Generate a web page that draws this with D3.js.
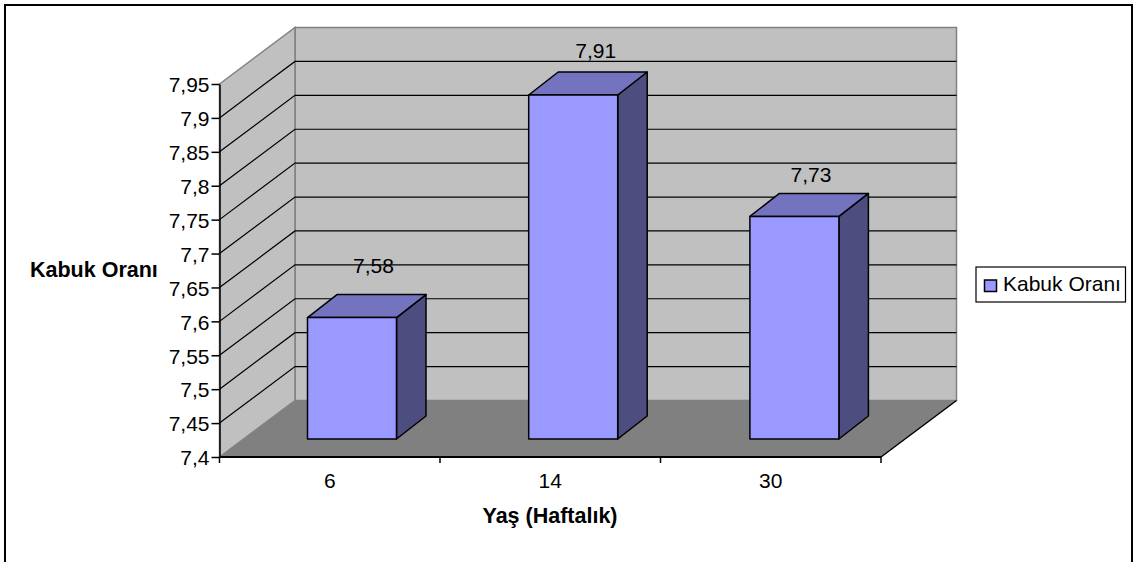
<!DOCTYPE html>
<html>
<head>
<meta charset="utf-8">
<script src="https://cdnjs.cloudflare.com/ajax/libs/d3/7.8.5/d3.min.js"></script>
<style>
html,body{margin:0;padding:0;background:#fff}
svg{display:block}
text{font-family:"Liberation Sans",Arial,sans-serif;fill:#000}
</style>
</head>
<body>
<svg id="chart" width="1133" height="562"></svg>
<script>
// Chart content
const categories = ["6", "14", "30"];
const values = [7.58, 7.91, 7.73];
const valueLabels = ["7,58", "7,91", "7,73"];
const yTicks = [7.4, 7.45, 7.5, 7.55, 7.6, 7.65, 7.7, 7.75, 7.8, 7.85, 7.9, 7.95];
const seriesName = "Kabuk Oranı";
const xTitle = "Yaş (Haftalık)";

// Oblique projection of the 3D box
const frontLeft = 219.5, frontRight = 881, frontBottom = 457, frontTop = 84;
const depthX = 75.5, depthY = -56.5;
const barDepthX = 29.5, barDepthY = -23;

// Type sizes
const tickFont = "21px", titleFont = "21.5px";

// Hand-placed nudges for the value labels, relative to each bar's front top centre
const labelShiftX = [21.5, 22.5, 16.5];
const labelRise = [45, 37, 34];

const svg = d3.select("#chart");
const yFront = d3.scaleLinear().domain([7.4, 7.95]).range([frontBottom, frontTop]);
// Bars stand on a plane inside the floor, so their value scale is slightly shorter
const yBar = d3.scaleLinear().domain([7.4, 7.95]).range([439, 68]);
const x = d3.scaleBand().domain(categories).range([frontLeft, frontRight]);
// The same plane sits further back, which shifts and slightly widens the category slots
const xBar = d3.scaleBand().domain(categories).range([241.4, 905]);
const barW = 89;

const poly = pts => pts.map(p => p.join(",")).join(" ");

// Outer frame
svg.append("rect").attr("x", 5).attr("y", 5).attr("width", 1127).attr("height", 580)
  .attr("fill", "#fff").attr("stroke", "#000").attr("stroke-width", 2);

// Back wall, side wall, floor
const backL = frontLeft + depthX, backR = frontRight + depthX;
const backTop = frontTop + depthY, backBottom = frontBottom + depthY;
svg.append("polygon").attr("points", poly([[backL, backTop], [backR, backTop], [backR, backBottom], [backL, backBottom]]))
  .attr("fill", "#c0c0c0").attr("stroke", "#808080").attr("stroke-width", 1.5);
svg.append("polygon").attr("points", poly([[frontLeft, frontTop], [backL, backTop], [backL, backBottom], [frontLeft, frontBottom]]))
  .attr("fill", "#c0c0c0").attr("stroke", "#808080").attr("stroke-width", 1.5);
svg.append("polygon").attr("points", poly([[frontLeft, frontBottom], [backL, backBottom], [backR, backBottom], [frontRight, frontBottom]]))
  .attr("fill", "#808080");

// Gridlines across both walls
const gridTicks = yTicks.slice(1, -1);
const grid = svg.append("g").attr("fill", "none").attr("stroke", "#000").attr("stroke-width", 1.2);
gridTicks.forEach(t => {
  const yy = yFront(t);
  grid.append("polyline").attr("points", poly([[frontLeft, yy], [backL, yy + depthY], [backR, yy + depthY]]));
});

// Floor front-right edge
svg.append("line").attr("x1", frontRight).attr("y1", frontBottom).attr("x2", backR).attr("y2", backBottom)
  .attr("stroke", "#000").attr("stroke-width", 1.5);

// Axes
const yAxis = d3.axisLeft(yFront).tickValues(yTicks).tickSize(8).tickPadding(2).tickSizeOuter(0)
  .tickFormat(d => String(+d.toFixed(2)).replace(".", ","));
const gy = svg.append("g").attr("transform", `translate(${frontLeft},0)`).call(yAxis);
gy.selectAll("text").style("font-size", tickFont).attr("y", 1);
gy.selectAll("path,line").attr("stroke", "#000").attr("stroke-width", 1.5);

const xAxis = d3.axisBottom(x).tickSize(0).tickPadding(16.5);
const gx = svg.append("g").attr("transform", `translate(0,${frontBottom})`).call(xAxis);
gx.select("path").remove();
gx.selectAll("text").style("font-size", tickFont);
svg.append("line").attr("x1", frontLeft).attr("x2", frontRight).attr("y1", frontBottom).attr("y2", frontBottom)
  .attr("stroke", "#000").attr("stroke-width", 2);
const xEdges = [frontLeft, ...categories.map(c => x(c) + x.bandwidth())];
svg.append("g").selectAll("line").data(xEdges).join("line")
  .attr("x1", d => d).attr("x2", d => d).attr("y1", frontBottom).attr("y2", frontBottom + 6)
  .attr("stroke", "#000").attr("stroke-width", 1.5);

// Bars
const bars = svg.append("g").attr("stroke", "#000").attr("stroke-width", 1.5).attr("stroke-linejoin", "round");
const yBase = yBar(7.4);
categories.forEach((c, i) => {
  const x0 = xBar(c) + (xBar.bandwidth() - barW) / 2;
  const x1 = x0 + barW;
  const yTop = yBar(values[i]);
  bars.append("polygon").attr("fill", "#4d4d80")
    .attr("points", poly([[x1, yBase], [x1 + barDepthX, yBase + barDepthY], [x1 + barDepthX, yTop + barDepthY], [x1, yTop]]));
  bars.append("polygon").attr("fill", "#7373bf")
    .attr("points", poly([[x0, yTop], [x0 + barDepthX, yTop + barDepthY], [x1 + barDepthX, yTop + barDepthY], [x1, yTop]]));
  bars.append("rect").attr("fill", "#9999ff")
    .attr("x", x0).attr("y", yTop).attr("width", barW).attr("height", yBase - yTop);
  svg.append("text").attr("x", x0 + barW / 2 + labelShiftX[i]).attr("y", yTop - labelRise[i])
    .attr("text-anchor", "middle").style("font-size", tickFont).text(valueLabels[i]);
});

// Axis titles
svg.append("text").attr("x", 30).attr("y", 277).style("font-size", titleFont).style("font-weight", "bold").text(seriesName);
svg.append("text").attr("x", 550).attr("y", 523).attr("text-anchor", "middle").style("font-size", titleFont).style("font-weight", "bold").text(xTitle);

// Legend
svg.append("rect").attr("x", 976).attr("y", 267).attr("width", 149.5).attr("height", 35)
  .attr("fill", "#fff").attr("stroke", "#000").attr("stroke-width", 1.2);
svg.append("rect").attr("x", 984.5).attr("y", 280).attr("width", 12).attr("height", 11.5)
  .attr("fill", "#9999ff").attr("stroke", "#000").attr("stroke-width", 1.5);
svg.append("text").attr("x", 1003).attr("y", 291).style("font-size", tickFont).text(seriesName);
</script>
</body>
</html>
